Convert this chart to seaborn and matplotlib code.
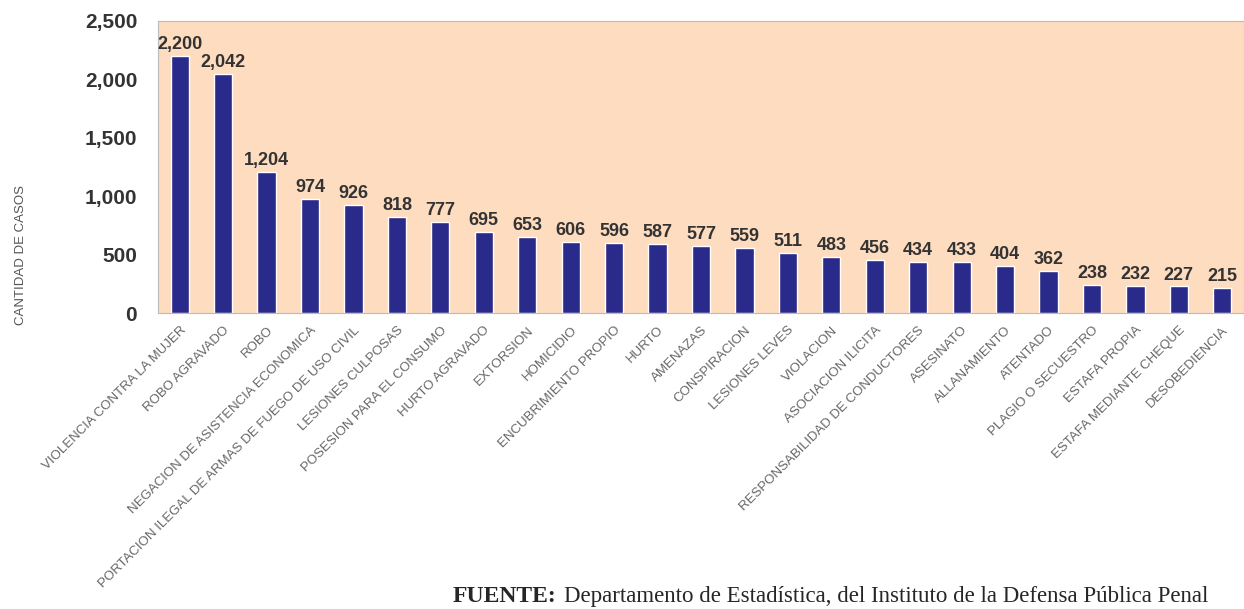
import numpy as np
import pandas as pd
import seaborn as sns
import matplotlib.pyplot as plt

# categories and counts
delitos = [
    'VIOLENCIA CONTRA LA MUJER', 'ROBO AGRAVADO', 'ROBO',
    'NEGACION DE ASISTENCIA ECONOMICA',
    'PORTACION ILEGAL DE ARMAS DE FUEGO DE USO CIVIL',
    'LESIONES CULPOSAS', 'POSESION PARA EL CONSUMO', 'HURTO AGRAVADO',
    'EXTORSION', 'HOMICIDIO', 'ENCUBRIMIENTO PROPIO', 'HURTO', 'AMENAZAS',
    'CONSPIRACION', 'LESIONES LEVES', 'VIOLACION', 'ASOCIACION ILICITA',
    'RESPONSABILIDAD DE CONDUCTORES', 'ASESINATO', 'ALLANAMIENTO',
    'ATENTADO', 'PLAGIO O SECUESTRO', 'ESTAFA PROPIA',
    'ESTAFA MEDIANTE CHEQUE', 'DESOBEDIENCIA',
]
casos = [2200, 2042, 1204, 974, 926, 818, 777, 695, 653, 606, 596, 587, 577,
         559, 511, 483, 456, 434, 433, 404, 362, 238, 232, 227, 215]
yticks = [0, 500, 1000, 1500, 2000, 2500]

df = pd.DataFrame({'delito': delitos, 'casos': casos})

sns.set_style('white')
plt.rcParams['font.family'] = ['Liberation Sans', 'DejaVu Sans']

fig = plt.figure(figsize=(12.44, 6.09), dpi=100)
ax = fig.add_axes([0.127, 0.486, 0.873, 0.48])
ax.set_facecolor('#fddcc0')

sns.barplot(data=df, x='delito', y='casos', color='#2a2a8a', width=0.42,
            saturation=1, ax=ax)

for i, v in enumerate(casos):
    ax.text(i, v + 25, f'{v:,}', ha='center', va='bottom', fontsize=13,
            fontweight='bold', color='#333333')

ax.set_ylim(0, 2500)
ax.set_xlim(-0.5, len(casos) - 0.5)
ax.set_yticks(yticks)
ax.set_yticklabels([f'{t:,}' for t in yticks], fontsize=15, fontweight='bold',
                   color='#333333')
ax.set_xticks(range(len(delitos)))
ax.set_xticklabels(delitos, rotation=45, ha='right', rotation_mode='anchor',
                   fontsize=9.5, color='#666666')
ax.tick_params(axis='y', pad=15, length=0)
ax.tick_params(axis='x', pad=8, length=0)
ax.set_xlabel('')
ax.set_ylabel('')
for s in ax.spines.values():
    s.set_color('#bbbbbb')
    s.set_linewidth(0.8)

fig.text(0.017, 0.581, 'CANTIDAD DE CASOS', rotation=90, ha='center',
         va='center', fontsize=9.5, color='#555555')

# source note (the original is clipped at the page edge; kept whole here)
fig.text(0.364, 0.012, 'FUENTE:', fontsize=17, fontweight='bold',
         va='baseline', family=['Liberation Serif', 'DejaVu Serif'])
fig.text(0.453, 0.012,
         'Departamento de Estadística, del Instituto de la Defensa Pública Penal',
         fontsize=16.5, va='baseline', family=['Liberation Serif', 'DejaVu Serif'])

fig.savefig('out.png', dpi=100)
